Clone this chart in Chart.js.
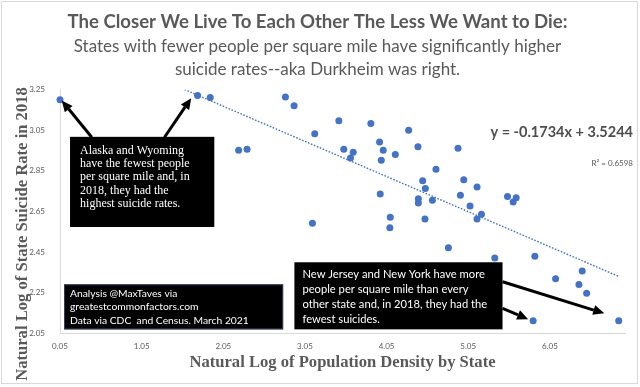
<!DOCTYPE html>
<html>
<head>
<meta charset="utf-8">
<script src="https://cdn.jsdelivr.net/npm/chart.js@4.4.1/dist/chart.umd.min.js"></script>
<style>
    html, body { margin: 0; padding: 0; background: #fff; }
    #wrap { width: 640px; height: 387px; }
</style>
</head>
<body>
<div id="wrap"><canvas id="densityChart" width="640" height="387"></canvas></div>
<script>
// Natural log of population density (x) and of 2018 suicide rate (y), one entry per state
var densityLog = [0.05, 1.735, 1.890, 2.238, 2.341, 2.811, 2.917, 3.142, 3.170, 3.465,
    3.526, 3.608, 3.641, 3.857, 3.964, 3.972, 3.985, 4.009, 4.090, 4.095,
    4.157, 4.320, 4.434, 4.439, 4.439, 4.492, 4.520, 4.525, 4.611, 4.655,
    4.807, 4.925, 4.954, 4.995, 5.072, 5.158, 5.158, 5.212, 5.375, 5.531,
    5.600, 5.637, 5.845, 5.866, 6.120, 6.406, 6.446, 6.500, 6.893];
var suicideLog = [3.201, 3.222, 3.212, 2.952, 2.957, 3.215, 3.171, 2.592, 3.033, 3.097,
    2.957, 2.914, 2.942, 3.084, 2.993, 2.736, 2.903, 2.952, 2.569, 2.621,
    2.931, 3.051, 2.969, 2.712, 2.691, 2.801, 2.613, 2.763, 2.705, 2.858,
    2.471, 2.962, 2.730, 2.806, 2.677, 2.770, 2.613, 2.636, 2.420, 2.723,
    2.697, 2.718, 2.111, 2.429, 2.318, 2.289, 2.356, 2.246, 2.111];

var xTicks = [0.05, 1.05, 2.05, 3.05, 4.05, 5.05, 6.05];
var yTicks = [2.05, 2.25, 2.45, 2.65, 2.85, 3.05, 3.25];

// Excel linear trendline as printed on the chart
var trendSlope = -0.1734;
var trendIntercept = 3.5244;
var trendRange = [1.575, 6.893];
var equationText = 'y = -0.1734x + 3.5244';
var r2Text = 'R\u00B2 = 0.6598';

var titleText = 'The Closer We Live To Each Other The Less We Want to Die:';
var subtitleLines = ['States with fewer people per square mile have significantly higher',
    'suicide rates--aka Durkheim was right.'];
var xTitle = 'Natural Log of Population Density by State';
var yTitle = 'Natural Log of State Suicide Rate in 2018';

var noteWest = ['Alaska and Wyoming', 'have the fewest people', 'per square mile and, in',
    '2018, they had the', 'highest suicide rates.'];
var noteEast = ['New Jersey and New York have more', 'people per square mile than every',
    'other state and, in 2018, they had the', 'fewest suicides.'];
var noteSource = ['Analysis @MaxTaves via', 'greatestcommonfactors.com',
    'Data via CDC  and Census. March 2021'];

var points = densityLog.map(function (x, i) { return { x: x, y: suicideLog[i] }; });
var trendPoints = trendRange.map(function (x) { return { x: x, y: trendSlope * x + trendIntercept }; });

var grey = '#595959';

// boxes are placed in data units: [xLeft, yTop, xRight, yBottom]
var callouts = [
    { box: [0.173, 3.018, 1.940, 2.573], lines: noteWest, font: '12px "Liberation Serif"',
      padX: 10, firstY: 13.7, lineH: 13.3, stroke: null },
    { box: [0.099, 2.290, 2.783, 2.068], lines: noteSource, font: '10.3px Lato',
      padX: 6, firstY: 9.3, lineH: 13.5, stroke: '#2f3f5f' },
    { box: [2.921, 2.399, 5.470, 2.068], lines: noteEast, font: '11.2px Lato',
      padX: 8, firstY: 12, lineH: 15.2, stroke: null }
];
var arrows = [
    [[0.439, 3.016], [0.071, 3.197]],
    [[1.330, 3.016], [1.657, 3.209]],
    [[5.470, 2.303], [6.716, 2.147]],
    [[5.470, 2.172], [5.784, 2.118]]
];

function drawArrow(ctx, x1, y1, x2, y2) {
    var a = Math.atan2(y2 - y1, x2 - x1);
    var head = 11, half = 5;
    var bx = x2 - head * Math.cos(a), by = y2 - head * Math.sin(a);
    ctx.beginPath();
    ctx.moveTo(x1, y1);
    ctx.lineTo(bx, by);
    ctx.lineWidth = 3;
    ctx.strokeStyle = '#000';
    ctx.stroke();
    ctx.beginPath();
    ctx.moveTo(x2, y2);
    ctx.lineTo(bx + half * Math.sin(a), by - half * Math.cos(a));
    ctx.lineTo(bx - half * Math.sin(a), by + half * Math.cos(a));
    ctx.closePath();
    ctx.fillStyle = '#000';
    ctx.fill();
}

var frame = {
    id: 'frame',
    beforeDraw: function (chart) {
        var ctx = chart.ctx;
        ctx.save();
        ctx.fillStyle = '#fff';
        ctx.fillRect(0, 0, chart.width, chart.height);
        ctx.strokeStyle = '#d9d9d9';
        ctx.lineWidth = 1;
        ctx.strokeRect(1.5, 1.5, chart.width - 4, chart.height - 5);
        ctx.restore();
    }
};

var notes = {
    id: 'notes',
    afterDraw: function (chart) {
        var ctx = chart.ctx;
        var xs = chart.scales.x, ys = chart.scales.y;
        ctx.save();

        // y axis title sits lower than centre in the original, so it is drawn here
        ctx.save();
        ctx.translate(23, 234);
        ctx.rotate(-Math.PI / 2);
        ctx.fillStyle = grey;
        ctx.font = 'bold 16.6px "Liberation Serif"';
        ctx.textAlign = 'center';
        ctx.textBaseline = 'middle';
        ctx.fillText(yTitle, 0, 0);
        ctx.restore();

        arrows.forEach(function (a) {
            drawArrow(ctx, xs.getPixelForValue(a[0][0]), ys.getPixelForValue(a[0][1]),
                xs.getPixelForValue(a[1][0]), ys.getPixelForValue(a[1][1]));
        });

        callouts.forEach(function (c) {
            var l = xs.getPixelForValue(c.box[0]), t = ys.getPixelForValue(c.box[1]);
            var r = xs.getPixelForValue(c.box[2]), b = ys.getPixelForValue(c.box[3]);
            ctx.fillStyle = '#000';
            ctx.fillRect(l, t, r - l, b - t);
            if (c.stroke) {
                ctx.strokeStyle = c.stroke;
                ctx.lineWidth = 1;
                ctx.strokeRect(l + 0.5, t + 0.5, r - l - 1, b - t - 1);
            }
            ctx.fillStyle = '#fff';
            ctx.font = c.font;
            ctx.textAlign = 'left';
            ctx.textBaseline = 'middle';
            c.lines.forEach(function (line, i) {
                ctx.fillText(line, l + c.padX, t + c.firstY + i * c.lineH);
            });
        });

        // trendline equation, right aligned against the chart frame
        var right = chart.width - 7;
        ctx.textAlign = 'right';
        ctx.textBaseline = 'middle';
        ctx.fillStyle = '#4d4d4d';
        ctx.font = 'bold 14.5px Lato';
        ctx.fillText(equationText, right, 132);
        ctx.fillStyle = grey;
        ctx.font = '8px Lato';
        ctx.fillText(r2Text, right, 163.5);
        ctx.restore();
    }
};

new Chart(document.getElementById('densityChart'), {
    type: 'scatter',
    data: {
        datasets: [{
            label: 'States',
            data: points,
            backgroundColor: '#4472C4',
            borderWidth: 0,
            pointRadius: 3.5,
            clip: false
        }, {
            label: 'Trend',
            data: trendPoints,
            showLine: true,
            borderColor: '#4472C4',
            borderWidth: 1.4,
            borderDash: [1.6, 1.6],
            pointRadius: 0
        }]
    },
    options: {
        responsive: false,
        animation: false,
        devicePixelRatio: 1,
        layout: { padding: { left: 10, right: 15, top: 0, bottom: 10 } },
        plugins: {
            legend: { display: false },
            tooltip: { enabled: false },
            title: {
                display: true,
                text: titleText,
                color: grey,
                font: { family: 'Lato', size: 18.6, weight: 'bold', lineHeight: 1.2 },
                padding: { top: 10.5, bottom: 0 }
            },
            subtitle: {
                display: true,
                text: subtitleLines,
                color: grey,
                font: { family: 'Lato', size: 17, lineHeight: 23 / 17 },
                padding: { top: 2, bottom: 9 }
            }
        },
        scales: {
            x: {
                type: 'linear',
                min: 0.05,
                max: 6.97,
                afterBuildTicks: function (s) { s.ticks = xTicks.map(function (v) { return { value: v }; }); },
                afterFit: function (s) { s.height = 44; },
                grid: { display: false, drawTicks: false },
                border: { display: true, color: '#d9d9d9', width: 1 },
                ticks: {
                    color: grey, padding: 9, maxRotation: 0, autoSkip: false,
                    font: { family: 'Lato', size: 8 },
                    callback: function (v) { return v.toFixed(2); }
                },
                title: {
                    display: true,
                    text: xTitle,
                    color: grey,
                    font: { family: 'Liberation Serif', size: 16.6, weight: 'bold', lineHeight: 1.2 },
                    padding: { top: 2, bottom: 4 }
                }
            },
            y: {
                type: 'linear',
                min: 2.05,
                max: 3.25,
                afterBuildTicks: function (s) { s.ticks = yTicks.map(function (v) { return { value: v }; }); },
                afterFit: function (s) { s.width = 50; },
                grid: { display: false, drawTicks: false },
                border: { display: true, color: '#d9d9d9', width: 1 },
                ticks: {
                    color: grey, padding: 15, autoSkip: false,
                    font: { family: 'Lato', size: 8 },
                    callback: function (v) { return v.toFixed(2); }
                }
            }
        }
    },
    plugins: [frame, notes]
});
</script>
</body>
</html>
